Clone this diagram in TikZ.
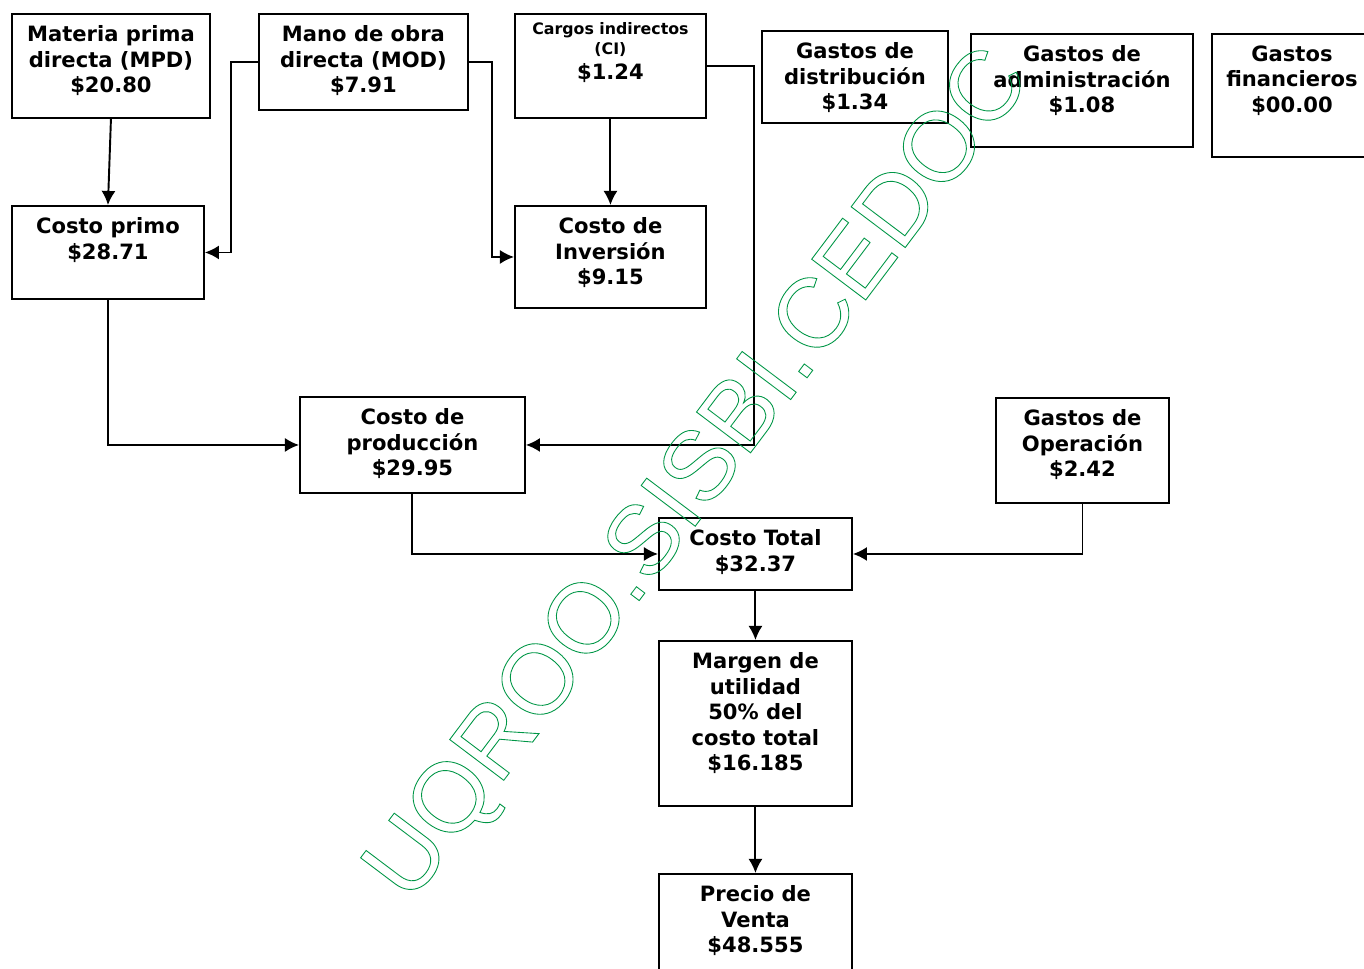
\documentclass[tikz,border=0pt]{standalone}
\usepackage{fontspec}
\setmainfont{DejaVu Sans}
\newfontfamily\marcafont{Liberation Sans}
\usetikzlibrary{arrows.meta}
\definecolor{marca}{RGB}{0,150,70}

\begin{document}
\begin{tikzpicture}[x=0.02cm,y=-0.02cm,>={Latex[length=8pt,width=8pt]},
every node/.style={inner sep=0pt},
caja/.style={draw,line width=1.1pt,anchor=north west},
texto/.style={anchor=north,align=center,yshift=-7pt,font=\bfseries\fontsize{12}{14.5}\selectfont},
linea/.style={line width=1.1pt,->}]

\useasboundingbox (0,0) rectangle (1364,968);
\clip (0,0) rectangle (1364,968);

% fila de arriba
\node[caja,minimum width=3.96cm,minimum height=2.08cm,
  label={[texto]above:Materia prima\\directa (MPD)\\\$20.80}] (mpd) at (11,13) {};
\node[caja,minimum width=4.18cm,minimum height=1.92cm,
  label={[texto]above:Mano de obra\\directa (MOD)\\\$7.91}] (mod) at (258,13) {};
\node[caja,minimum width=3.82cm,minimum height=2.08cm,
  label={[texto,yshift=2pt]above:{\fontsize{9}{10}\selectfont Cargos indirectos}\\[-3pt]{\fontsize{9}{10}\selectfont (CI)}\\\$1.24}] (ci) at (514,13) {};
\node[caja,minimum width=3.72cm,minimum height=1.84cm,
  label={[texto]above:Gastos de\\distribución\\\$1.34}] (dist) at (761,30) {};
\node[caja,minimum width=4.44cm,minimum height=2.26cm,
  label={[texto]above:Gastos de\\administración\\\$1.08}] (admin) at (970,33) {};
\node[caja,minimum width=3.2cm,minimum height=2.46cm,
  label={[texto]above:Gastos\\financieros\\\$00.00}] (fin) at (1211,33) {};

% costos
\node[caja,minimum width=3.84cm,minimum height=1.86cm,
  label={[texto]above:Costo primo\\\$28.71}] (primo) at (11,205) {};
\node[caja,minimum width=3.82cm,minimum height=2.04cm,
  label={[texto]above:Costo de\\Inversión\\\$9.15}] (inv) at (514,205) {};
\node[caja,minimum width=4.5cm,minimum height=1.92cm,
  label={[texto]above:Costo de\\producción\\\$29.95}] (prod) at (299,396) {};
\node[caja,minimum width=3.46cm,minimum height=2.1cm,
  label={[texto]above:Gastos de\\Operación\\\$2.42}] (oper) at (995,397) {};
\node[caja,minimum width=3.86cm,minimum height=1.44cm,
  label={[texto]above:Costo Total\\\$32.37}] (total) at (658,517) {};
\node[caja,minimum width=3.86cm,minimum height=3.3cm,
  label={[texto]above:Margen de\\utilidad\\50\% del\\costo total\\\$16.185}] (margen) at (658,640) {};
\node[caja,minimum width=3.86cm,minimum height=2.2cm,
  label={[texto]above:Precio de\\Venta\\\$48.555}] (precio) at (658,873) {};

% flechas
\draw[linea] (mpd.south) -- (primo.north);
\draw[linea] (mod.west) -- ++(-27,0) |- (primo.east);
\draw[linea] (mod.east) -- ++(23,0) |- (inv.west);
\draw[linea] (ci.south) -- (inv.north);
\draw[linea] (ci.east) -- ++(47,0) |- (prod.east);
\draw[linea] (primo.south) |- (prod.west);
\draw[linea] (prod.south) |- (total.west);
\draw[linea] (oper.south) |- (total.east);
\draw[linea] (total.south) -- (margen.north);
\draw[linea] (margen.south) -- (precio.north);

% marca de agua (solo contorno)
\node[rotate=53,anchor=base,font=\marcafont\fontsize{56}{60}\selectfont] (sello) at (721,492)
  {\special{pdf:literal direct 1 Tr 0.5 w 0 0.588 0.275 RG}UQROO.SISBI.CEDOC\special{pdf:literal direct 0 Tr}};
\end{tikzpicture}
\end{document}
